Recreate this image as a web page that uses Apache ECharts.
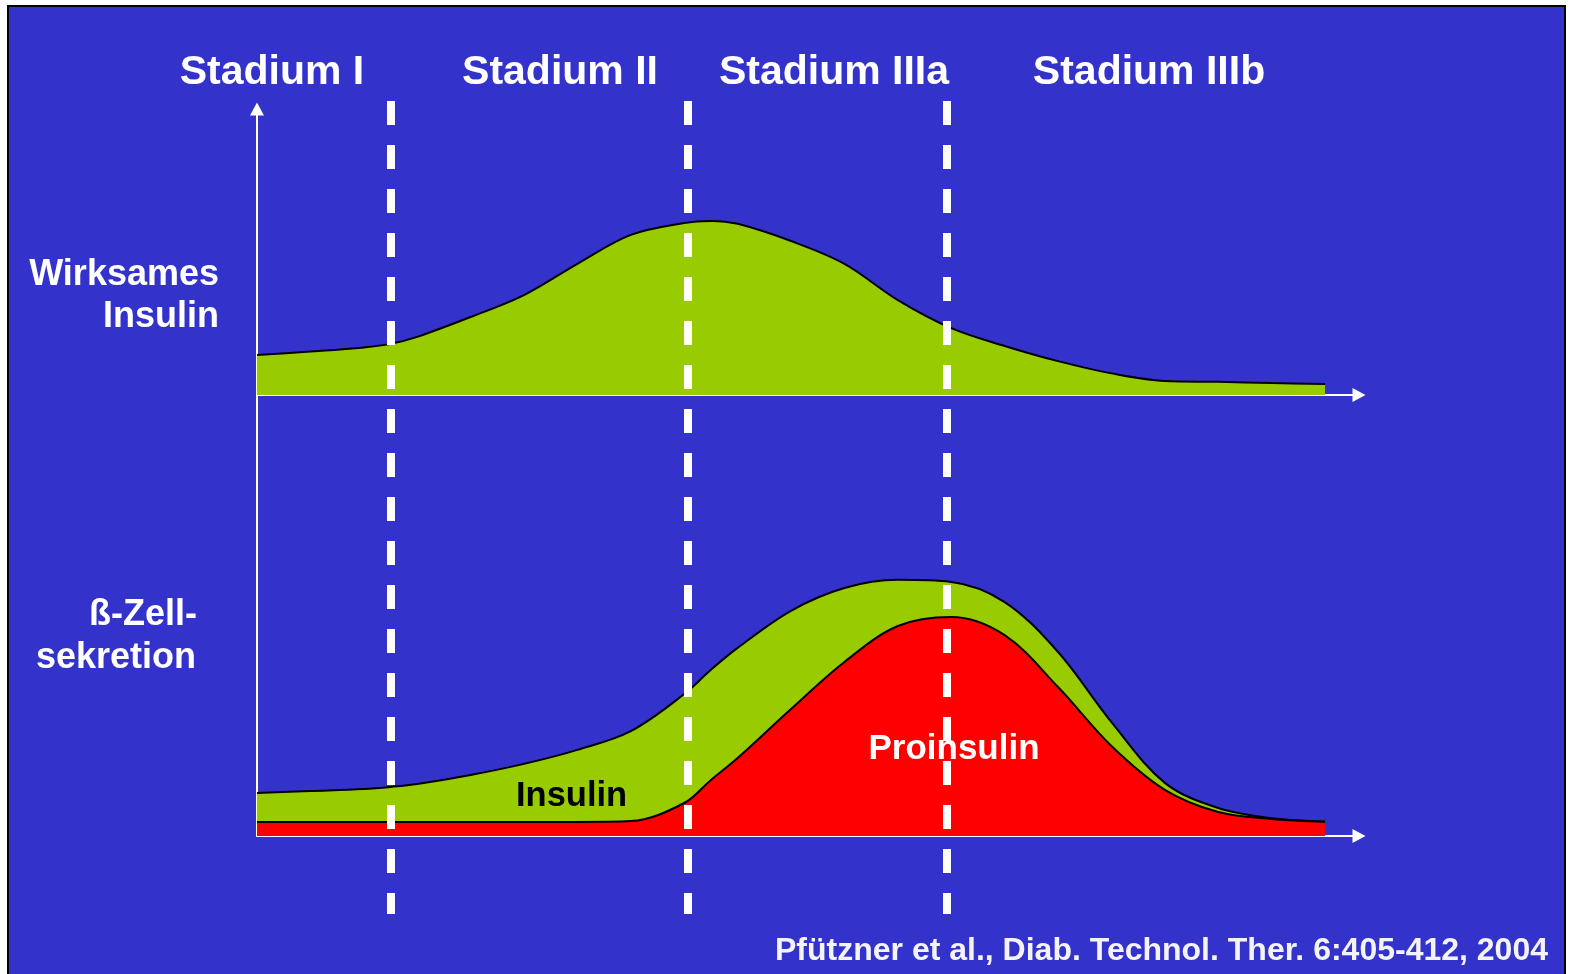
<!DOCTYPE html>
<html>
<head>
<meta charset="utf-8">
<title>Wirksames Insulin und ß-Zell-Sekretion</title>
<script src="https://cdn.jsdelivr.net/npm/echarts@6/dist/echarts.min.js"></script>
<style>
  html, body { margin: 0; padding: 0; background: #ffffff; overflow: hidden; }
  #frame {
    position: absolute; left: 7px; top: 5px; width: 1559px; height: 990px;
    background: #3333cc; border: 2px solid #000000; box-sizing: border-box;
  }
  #chart { position: absolute; left: 0; top: 0; width: 1573px; height: 974px; }
</style>
</head>
<body>
<div id="frame"></div>
<div id="chart"></div>
<script>
// Time course through the stages (relative units, 0 = start, 100 = end)
const timePoints = [0, 5, 10, 12.5, 15, 20, 25, 30, 35, 40, 42.5, 45, 50, 55, 60, 65, 70, 75, 80, 85, 90, 95, 100];

// Effective insulin (upper panel)
const wirksamesInsulin = [13.7, 14.9, 16.3, 17.5, 19.9, 26.7, 34.2, 44.9, 54.8, 58.9, 59.6, 58.6, 52.7, 44.9, 32.5, 22.9, 16.8, 11.6, 7.4, 4.8, 4.5, 4.1, 3.8];

// Beta-cell secretion (lower panel): proinsulin and insulin
const proinsulin = [4.8, 4.8, 4.8, 4.8, 4.8, 4.8, 4.8, 4.8, 5.1, 11.3, 19.2, 26.7, 43.5, 59.6, 71.9, 75.0, 68.8, 51.0, 30.8, 15.8, 8.2, 5.8, 4.8];
const insulin = [9.9, 10.6, 11.3, 12.0, 13.0, 16.1, 19.9, 24.7, 30.8, 37.3, 37.7, 37.7, 33.6, 25.3, 15.8, 12.0, 11.3, 12.0, 8.2, 2.4, 1.4, 0.3, 0.2];

// Stage names and the boundaries between stages (same time units)
const stageNames = ['Stadium I', 'Stadium II', 'Stadium IIIa', 'Stadium IIIb'];
const stageBounds = [12.55, 40.36, 64.6];

const BLUE = '#3333cc';
const GREEN = '#99cc00';
const RED = '#ff0000';
const WHITE = '#ffffff';
const FONT = '"Liberation Sans", Arial, Helvetica, sans-serif';

const X_MAX = 103.18;
const pairs = arr => timePoints.map((t, i) => [t, arr[i]]);
// total secretion = proinsulin + insulin, drawn behind the proinsulin area
const secretionTotal = proinsulin.map((p, i) => p + insulin[i]);

const axisArrow = {
  show: true,
  lineStyle: { color: WHITE, width: 2 },
  symbol: ['none', 'triangle'],
  symbolSize: [14, 13]
};

const chart = echarts.init(document.getElementById('chart'), null, { renderer: 'canvas' });

const curveStyle = { color: '#000000', width: 2 };

const option = {
  backgroundColor: 'transparent',
  animation: false,
  grid: [
    { left: 257, top: 109, width: 1102, height: 286 },
    { left: 257, top: 395, width: 1102, height: 441 },
    { left: 257, top: 101, width: 1102, height: 813 }
  ],
  xAxis: [
    { type: 'value', gridIndex: 0, min: 0, max: X_MAX, axisLine: axisArrow,
      axisTick: { show: false }, axisLabel: { show: false }, splitLine: { show: false } },
    { type: 'value', gridIndex: 1, min: 0, max: X_MAX, axisLine: axisArrow,
      axisTick: { show: false }, axisLabel: { show: false }, splitLine: { show: false } },
    { type: 'value', gridIndex: 2, min: 0, max: X_MAX, show: false }
  ],
  yAxis: [
    { type: 'value', gridIndex: 0, min: 0, max: 97.9, axisLine: axisArrow,
      axisTick: { show: false }, axisLabel: { show: false }, splitLine: { show: false } },
    { type: 'value', gridIndex: 1, min: 0, max: 151,
      axisLine: { show: true, lineStyle: { color: WHITE, width: 2 } },
      axisTick: { show: false }, axisLabel: { show: false }, splitLine: { show: false } },
    { type: 'value', gridIndex: 2, min: 0, max: 1, show: false }
  ],
  series: [
    {
      name: 'Wirksames Insulin', type: 'line', xAxisIndex: 0, yAxisIndex: 0,
      data: pairs(wirksamesInsulin), smooth: 0.35, showSymbol: false,
      lineStyle: curveStyle, areaStyle: { color: GREEN, opacity: 1 }, z: 2
    },
    {
      name: 'Insulin', type: 'line', xAxisIndex: 1, yAxisIndex: 1,
      data: pairs(secretionTotal), smooth: 0.35, showSymbol: false,
      lineStyle: curveStyle, areaStyle: { color: GREEN, opacity: 1 }, z: 2
    },
    {
      name: 'Proinsulin', type: 'line', xAxisIndex: 1, yAxisIndex: 1,
      data: pairs(proinsulin), smooth: 0.35, showSymbol: false,
      lineStyle: curveStyle, areaStyle: { color: RED, opacity: 1 }, z: 3
    },
    {
      name: 'Stadiengrenzen', type: 'line', xAxisIndex: 2, yAxisIndex: 2, data: [], z: 10,
      markLine: {
        silent: true, symbol: 'none', label: { show: false },
        lineStyle: { color: WHITE, width: 8, type: [24, 20], cap: 'butt' },
        data: stageBounds.map(b => [{ coord: [b, 1] }, { coord: [b, 0] }])
      }
    }
  ],
  graphic: [
    // stage titles
    ...[272, 560, 834, 1149].map((x, i) => ({
      type: 'text', x: x, y: 72.5, z: 20,
      style: { text: stageNames[i], fill: WHITE, font: 'bold 41px ' + FONT,
               textAlign: 'center', textVerticalAlign: 'middle' }
    })),
    // panel titles
    { type: 'text', x: 219, y: 275.5, z: 20,
      style: { text: 'Wirksames', fill: WHITE, font: 'bold 36px ' + FONT, textAlign: 'right', textVerticalAlign: 'middle' } },
    { type: 'text', x: 219, y: 317.5, z: 20,
      style: { text: 'Insulin', fill: WHITE, font: 'bold 36px ' + FONT, textAlign: 'right', textVerticalAlign: 'middle' } },
    { type: 'text', x: 197, y: 615.5, z: 20,
      style: { text: 'ß-Zell-', fill: WHITE, font: 'bold 36px ' + FONT, textAlign: 'right', textVerticalAlign: 'middle' } },
    { type: 'text', x: 196, y: 658, z: 20,
      style: { text: 'sekretion', fill: WHITE, font: 'bold 36px ' + FONT, textAlign: 'right', textVerticalAlign: 'middle' } },
    // area labels
    { type: 'text', x: 571.6, y: 796.5, z: 5,
      style: { text: 'Insulin', fill: '#000000', font: 'bold 34.5px ' + FONT, textAlign: 'center', textVerticalAlign: 'middle' } },
    { type: 'text', x: 954, y: 749, z: 5,
      style: { text: 'Proinsulin', fill: WHITE, font: 'bold 35px ' + FONT, textAlign: 'center', textVerticalAlign: 'middle' } },
    // reference
    { type: 'text', x: 1548, y: 951, z: 20,
      style: { text: 'Pfützner et al., Diab. Technol. Ther. 6:405-412, 2004', fill: '#f4f4f8',
               font: 'bold 32px ' + FONT, textAlign: 'right', textVerticalAlign: 'middle' } }
  ]
};

chart.setOption(option);
</script>
</body>
</html>
